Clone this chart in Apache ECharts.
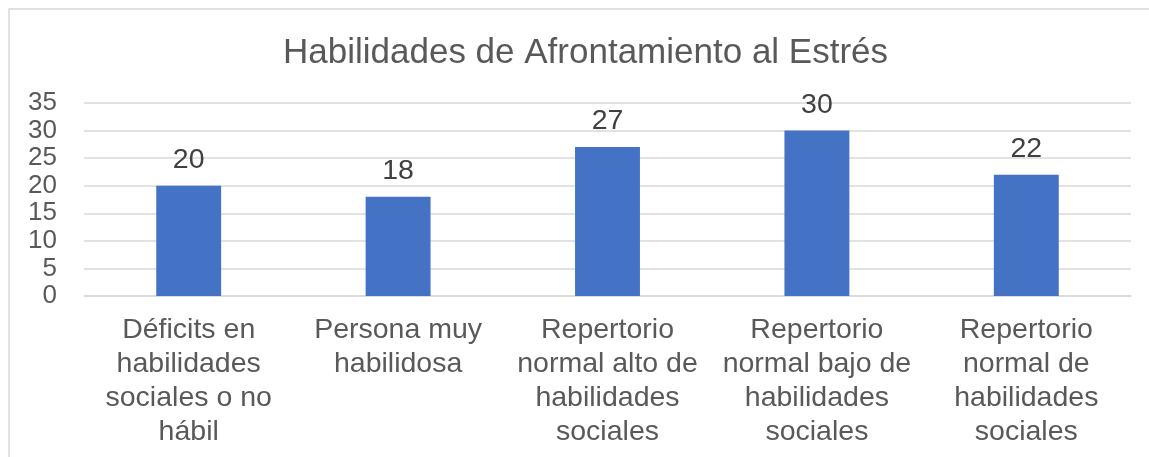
<!doctype html>
<html>
<head>
    <meta charset="utf-8">
    <title>Habilidades de Afrontamiento al Estrés</title>
    <script src="https://cdn.jsdelivr.net/npm/echarts@6/dist/echarts.min.js"></script>
    <style>
        html, body { margin: 0; padding: 0; background: #fff; }
        #chart { width: 1149px; height: 457px; }
    </style>
</head>
<body>
<div id="chart"></div>
<script>
    var titulo = 'Habilidades de Afrontamiento al Estrés';
    var categorias = [
        'Déficits en\nhabilidades\nsociales o no\nhábil',
        'Persona muy\nhabilidosa',
        'Repertorio\nnormal alto de\nhabilidades\nsociales',
        'Repertorio\nnormal bajo de\nhabilidades\nsociales',
        'Repertorio\nnormal de\nhabilidades\nsociales'
    ];
    var valores = [20, 18, 27, 30, 22];
    var ejeMin = 0, ejeMax = 35, ejePaso = 5;

    var myChart = echarts.init(document.getElementById('chart'));
    var option = {
        backgroundColor: '#ffffff',
        animation: false,
        textStyle: { fontFamily: 'Liberation Sans, Arial, sans-serif' },
        graphic: [{
            type: 'rect',
            shape: { x: 9, y: 9, width: 1300, height: 600 },
            style: { fill: 'none', stroke: '#d9d9d9', lineWidth: 1.5 },
            silent: true
        }],
        title: {
            text: titulo,
            left: 278,
            top: 31,
            textStyle: { color: '#595959', fontSize: 35, fontWeight: 'normal' }
        },
        grid: { left: 84, right: 18, top: 103, bottom: 161 },
        xAxis: {
            type: 'category',
            data: categorias,
            axisLine: { lineStyle: { color: '#d9d9d9', width: 1.5 } },
            axisTick: { show: false },
            axisLabel: {
                color: '#595959', fontSize: 28.5, lineHeight: 34,
                margin: 17, interval: 0, align: 'center'
            }
        },
        yAxis: {
            type: 'value',
            min: ejeMin, max: ejeMax, interval: ejePaso,
            axisLine: { show: false },
            axisTick: { show: false },
            axisLabel: { color: '#595959', fontSize: 26, margin: 27, lineHeight: 26 },
            splitLine: { lineStyle: { color: '#d9d9d9', width: 1.5 } }
        },
        series: [{
            type: 'bar',
            data: valores,
            barWidth: '31%',
            itemStyle: { color: '#4472c4' },
            label: {
                show: true, position: 'top', distance: 11,
                color: '#404040', fontSize: 28.5
            }
        }]
    };
    myChart.setOption(option);
</script>
</body>
</html>
